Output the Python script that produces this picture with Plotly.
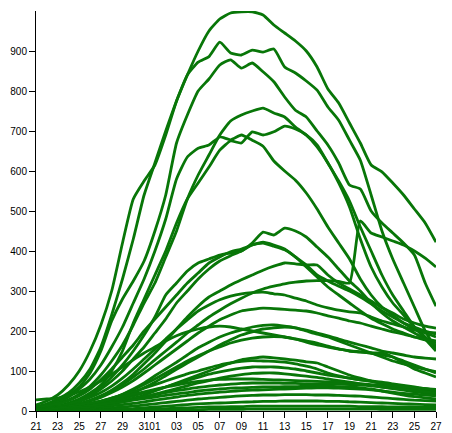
import pandas as pd
import plotly.graph_objects as go

# daily values, 21 March .. 27 April
dates = pd.date_range("2020-03-21", "2020-04-27", freq="D")
tick_dates = ["2020-03-21", "2020-03-23", "2020-03-25", "2020-03-27", "2020-03-29",
              "2020-03-31", "2020-04-01", "2020-04-03", "2020-04-05", "2020-04-07",
              "2020-04-09", "2020-04-11", "2020-04-13", "2020-04-15", "2020-04-17",
              "2020-04-19", "2020-04-21", "2020-04-23", "2020-04-25", "2020-04-27"]
y_ticks = [0, 100, 200, 300, 400, 500, 600, 700, 800, 900]

s_a = [15, 25, 40, 65, 100, 150, 215, 300, 420, 530, 575, 615, 690, 775, 840, 900, 950, 980, 995, 998,
       998, 990, 965, 945, 925, 900, 860, 805, 770, 720, 670, 615, 598, 570, 540, 505, 470, 422]
s_b = [10, 18, 30, 45, 70, 105, 160, 240, 330, 430, 540, 620, 700, 775, 840, 872, 886, 922, 895, 890,
       902, 897, 905, 860, 845, 825, 802, 760, 727, 677, 627, 540, 450, 380, 320, 260, 200, 155]
s_c = [10, 15, 25, 40, 60, 95, 150, 225, 280, 325, 375, 450, 540, 670, 740, 800, 830, 865, 878, 857,
       870, 848, 823, 785, 752, 735, 700, 665, 620, 565, 555, 500, 470, 445, 420, 390, 320, 262]
s_e = [8, 12, 18, 28, 42, 62, 90, 125, 165, 215, 270, 320, 385, 450, 530, 590, 640, 690, 725, 740,
       750, 757, 745, 735, 710, 690, 660, 620, 570, 510, 430, 360, 310, 270, 240, 210, 185, 160]
s_f = [5, 8, 12, 20, 30, 45, 65, 100, 150, 220, 280, 340, 400, 470, 530, 570, 610, 652, 675, 670,
       698, 690, 698, 712, 705, 690, 665, 620, 575, 525, 460, 400, 340, 290, 250, 210, 180, 150]
s_g = [10, 15, 22, 35, 55, 80, 115, 160, 210, 270, 330, 400, 480, 580, 635, 657, 665, 685, 678, 690,
       677, 662, 625, 600, 577, 545, 505, 460, 420, 380, 330, 290, 260, 240, 220, 205, 195, 185]
s_h = [5, 8, 12, 18, 28, 42, 60, 85, 115, 150, 190, 235, 290, 320, 350, 370, 380, 390, 395, 400,
       420, 447, 440, 457, 450, 435, 410, 385, 355, 325, 300, 270, 245, 225, 210, 195, 180, 165]
s_i1 = [8, 12, 18, 26, 38, 55, 78, 105, 135, 165, 200, 230, 260, 290, 320, 345, 370, 385, 398, 405,
        415, 422, 415, 405, 385, 365, 340, 325, 312, 300, 285, 268, 250, 235, 220, 210, 200, 192]
s_i2 = [3, 6, 10, 16, 25, 38, 55, 75, 100, 130, 160, 195, 230, 270, 300, 330, 355, 375, 388, 400,
        415, 420, 412, 403, 385, 360, 335, 310, 290, 270, 250, 232, 218, 205, 195, 185, 178, 170]
s_sp = [3, 5, 8, 12, 18, 26, 36, 50, 66, 85, 105, 128, 150, 172, 195, 215, 235, 252, 268, 282,
        295, 305, 312, 318, 322, 325, 326, 326, 324, 320, 475, 445, 435, 425, 415, 400, 382, 360]
s_j = [2, 4, 7, 12, 18, 27, 38, 52, 70, 92, 118, 145, 175, 205, 235, 262, 285, 300, 315, 328,
       340, 352, 362, 370, 368, 365, 365, 340, 320, 305, 290, 275, 258, 245, 230, 220, 212, 207]
s_k = [4, 7, 11, 16, 24, 34, 46, 62, 82, 105, 130, 155, 180, 205, 228, 250, 265, 278, 287, 293,
       296, 297, 293, 290, 282, 275, 265, 258, 252, 248, 245, 235, 225, 218, 210, 202, 198, 195]
s_l = [3, 5, 8, 12, 18, 25, 34, 46, 60, 76, 95, 115, 135, 155, 175, 195, 212, 228, 240, 250,
       254, 257, 256, 254, 252, 250, 245, 238, 232, 225, 220, 212, 205, 198, 192, 185, 180, 175]
s_m = [2, 3, 5, 8, 12, 17, 24, 32, 42, 55, 70, 88, 105, 122, 140, 158, 172, 185, 195, 203,
       210, 214, 215, 212, 208, 202, 195, 188, 180, 172, 165, 158, 150, 145, 140, 135, 132, 130]
s_n = [1, 2, 4, 6, 9, 13, 18, 25, 34, 45, 58, 72, 88, 104, 120, 135, 150, 165, 178, 190,
       198, 205, 208, 210, 208, 200, 192, 185, 175, 165, 155, 145, 135, 125, 118, 110, 104, 98]
s_aa = [28, 30, 32, 38, 48, 60, 75, 92, 110, 128, 145, 160, 175, 188, 198, 205, 210, 212, 210, 205,
        200, 195, 190, 185, 180, 172, 165, 160, 155, 150, 148, 145, 140, 135, 125, 115, 105, 95]
s_o = [2, 3, 5, 8, 12, 17, 23, 31, 41, 53, 66, 80, 95, 110, 125, 138, 150, 160, 170, 177,
       182, 185, 186, 185, 180, 175, 170, 162, 155, 150, 147, 145, 145, 135, 120, 105, 95, 85]
s_p = [1, 2, 3, 5, 7, 10, 14, 19, 25, 32, 40, 50, 60, 70, 80, 90, 100, 110, 120, 128,
       132, 135, 133, 130, 127, 123, 120, 110, 100, 90, 82, 75, 68, 62, 57, 52, 50, 47]
s_q = [3, 5, 7, 10, 14, 19, 25, 32, 40, 48, 57, 66, 75, 84, 93, 100, 108, 115, 120, 124,
       126, 125, 124, 122, 118, 112, 105, 95, 88, 82, 78, 75, 72, 68, 64, 60, 56, 52]
s_r = [2, 3, 5, 7, 10, 14, 19, 25, 31, 38, 45, 52, 60, 68, 76, 84, 92, 98, 103, 107,
       110, 110, 110, 108, 105, 100, 95, 90, 86, 82, 78, 74, 70, 66, 62, 58, 55, 52]
s_s = [1, 2, 3, 5, 7, 10, 14, 18, 23, 29, 35, 42, 49, 56, 63, 70, 76, 82, 87, 91,
       94, 95, 95, 93, 90, 87, 84, 80, 76, 72, 68, 64, 60, 56, 52, 48, 45, 42]
s_t = [4, 6, 8, 11, 15, 19, 24, 30, 36, 42, 48, 54, 60, 65, 70, 74, 77, 79, 80, 80,
       80, 79, 78, 77, 76, 75, 74, 73, 72, 70, 68, 66, 64, 62, 60, 58, 56, 54]
s_u = [2, 3, 5, 7, 10, 13, 17, 21, 26, 31, 36, 41, 46, 51, 55, 59, 62, 65, 67, 69,
       70, 70, 70, 69, 69, 68, 68, 68, 67, 66, 65, 63, 60, 57, 54, 51, 48, 45]
s_v = [3, 4, 6, 8, 10, 13, 16, 19, 23, 27, 31, 35, 39, 43, 46, 50, 53, 55, 57, 58,
       59, 60, 60, 61, 61, 62, 62, 62, 61, 60, 58, 55, 50, 45, 40, 36, 33, 30]
s_w = [1, 2, 3, 4, 6, 8, 10, 13, 16, 19, 23, 27, 31, 35, 39, 42, 45, 47, 49, 51,
       52, 53, 54, 55, 56, 57, 58, 58, 57, 56, 55, 53, 50, 47, 44, 42, 40, 38]
s_x = [0, 1, 1, 2, 3, 4, 6, 8, 10, 12, 15, 18, 21, 24, 27, 30, 32, 34, 36, 38,
       39, 40, 40, 41, 41, 41, 40, 40, 39, 38, 37, 35, 33, 31, 29, 27, 26, 25]
s_y = [0, 0, 1, 1, 2, 2, 3, 4, 5, 6, 8, 10, 12, 14, 16, 18, 19, 20, 21, 22,
       23, 24, 24, 25, 25, 25, 25, 24, 24, 23, 22, 21, 20, 19, 18, 17, 16, 15]
s_z = [0, 0, 0, 1, 1, 1, 2, 2, 3, 3, 4, 5, 6, 7, 8, 9, 10, 10, 11, 11,
       12, 12, 12, 12, 12, 12, 12, 12, 12, 12, 11, 11, 11, 10, 10, 10, 9, 9]
s_z2 = [0, 0, 0, 0, 0, 0, 1, 1, 1, 1, 2, 2, 2, 3, 3, 3, 4, 4, 4, 4,
        5, 5, 5, 5, 5, 5, 5, 5, 5, 5, 5, 5, 4, 4, 4, 4, 4, 4]

series = [s_a, s_b, s_c, s_e, s_f, s_g, s_h, s_i1, s_i2, s_sp, s_j, s_k, s_l, s_m, s_n,
          s_aa, s_o, s_p, s_q, s_r, s_s, s_t, s_u, s_v, s_w, s_x, s_y, s_z, s_z2]

fig = go.Figure()
for vals in series:
    fig.add_trace(go.Scatter(
        x=dates, y=vals, mode="lines",
        line=dict(color="rgb(8,118,8)", width=2.8, shape="spline", smoothing=0.5),
        hoverinfo="skip", showlegend=False
    ))

axis_font = dict(family="Liberation Sans, Arial, sans-serif", size=10, color="black")
fig.update_layout(
    width=452, height=433,
    margin=dict(l=36, r=16, t=11, b=22),
    paper_bgcolor="white", plot_bgcolor="white",
    xaxis=dict(range=[dates[0], dates[-1]], tickvals=tick_dates, tickformat="%d",
               tickangle=0, automargin=False,
               showgrid=False, zeroline=False, showline=True, linecolor="black",
               ticks="outside", ticklen=6, tickcolor="black", tickfont=axis_font),
    yaxis=dict(range=[0, 1000], tickvals=y_ticks, automargin=False,
               showgrid=False, zeroline=False, showline=True, linecolor="black",
               ticks="outside", ticklen=6, tickcolor="black", tickfont=axis_font),
)

# page body has an 8px default margin; drop it so the chart sits at the window corner
fig.write_html("out.html", config={"displayModeBar": False},
               post_script="document.body.style.margin='0';")
